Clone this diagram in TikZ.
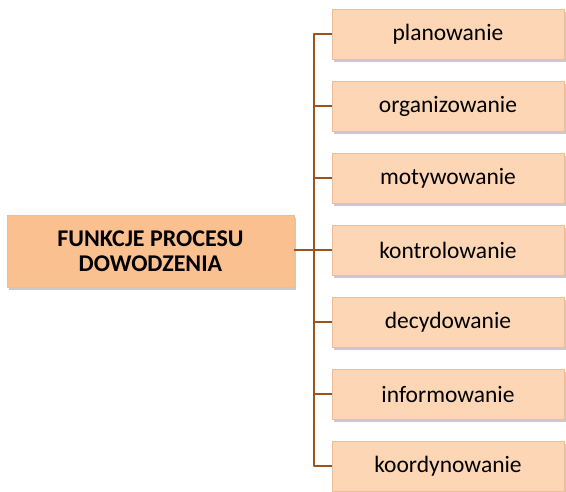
\documentclass[tikz,border=0pt]{standalone}
\usepackage{fontspec}
\setmainfont{Carlito}
\usetikzlibrary{shadows}
\definecolor{mainfill}{RGB}{250,192,144}
\definecolor{childfill}{RGB}{252,214,181}
\definecolor{edgecol}{RGB}{236,190,150}
\definecolor{linkcol}{RGB}{160,82,30}
\tikzset{
  boxbase/.style={rectangle, draw=edgecol, line width=0.8pt, inner sep=0pt,
    drop shadow={shadow xshift=2pt, shadow yshift=-2.5pt, opacity=0.35, fill=black!60}},
  mainbox/.style={boxbase, fill=mainfill, minimum width=287pt, minimum height=72pt,
    align=center, font=\bfseries\fontsize{24}{25}\selectfont},
  childbox/.style={boxbase, fill=childfill, minimum width=232pt, minimum height=50pt,
    font=\fontsize{23.5}{26}\selectfont},
  link/.style={draw=linkcol, line width=2.8pt, line join=round}
}
\begin{document}
\begin{tikzpicture}[x=1pt,y=-1pt]
\useasboundingbox (0,0) rectangle (566,491);
\node[mainbox] (main) at (150.5,251) {FUNKCJE PROCESU\\DOWODZENIA};
\node[childbox] (c1) at (448,34) {planowanie};
\node[childbox] (c2) at (448,106) {organizowanie};
\node[childbox] (c3) at (448,178) {motywowanie};
\node[childbox] (c4) at (448,250) {kontrolowanie};
\node[childbox] (c5) at (448,322) {decydowanie};
\node[childbox] (c6) at (448,394) {informowanie};
\node[childbox] (c7) at (448,466) {koordynowanie};
\coordinate (j) at (314,250);
\draw[link] (main.east |- j) -- (j);
\foreach \c in {c1,c2,c3,c4,c5,c6,c7} {
  \draw[link] (j) |- (\c.west);
}
\end{tikzpicture}
\end{document}
